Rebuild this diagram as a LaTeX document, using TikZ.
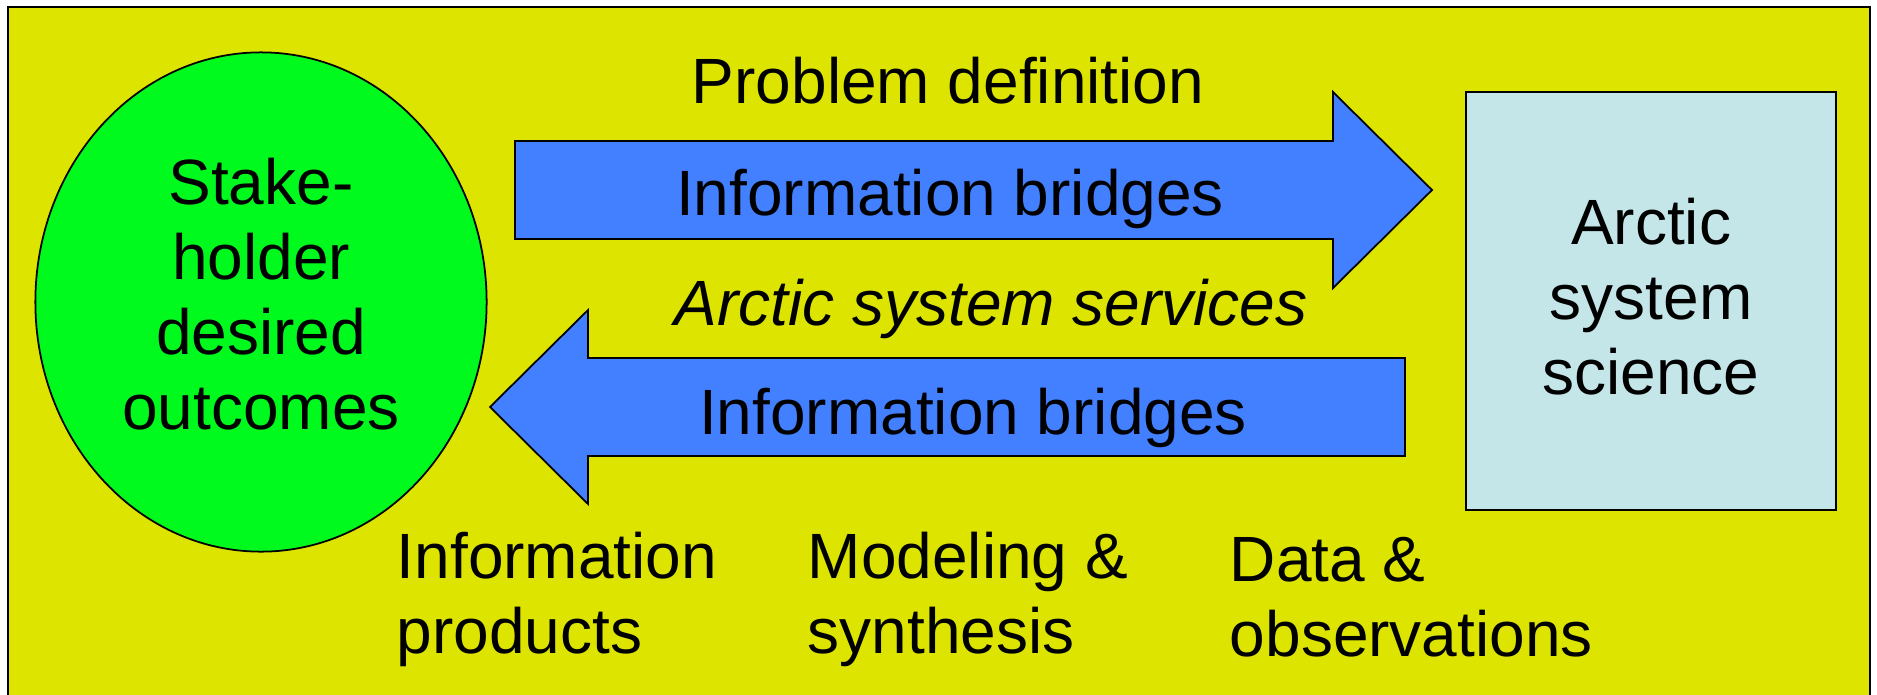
\documentclass[tikz,border=0pt]{standalone}
\usepackage{fontspec}
\setmainfont{Liberation Sans}
\usetikzlibrary{shapes.geometric}
\usetikzlibrary{positioning}

\definecolor{panelyellow}{RGB}{220,228,0}
\definecolor{stakegreen}{RGB}{0,250,30}
\definecolor{bridgeblue}{RGB}{66,128,255}
\definecolor{sciencecyan}{RGB}{196,230,232}

\begin{document}
\begin{tikzpicture}[x=0.01cm, y=-0.01cm, line width=0.5pt,
  every node/.style={font=\fontsize{18.2}{21.3}\selectfont, align=center, inner sep=0pt},
  bridge/.style={draw, fill=bridgeblue, line join=miter},
  caption/.style={align=left, anchor=west}]
\useasboundingbox (0,0) rectangle (1877,694);
\draw[fill=panelyellow] (8,7) rectangle (1870,710);

\node[draw, ellipse, fill=stakegreen, minimum width=4.51cm, minimum height=4.99cm] (SH) at (261,302) {};
\node[draw, fill=sciencecyan, minimum width=3.70cm, minimum height=4.18cm] (AS) at (1651,301) {};
\node (SHtext) at (261,294) {Stake-\\holder\\desired\\outcomes};
\node (AStext) at (1651,297) {Arctic\\system\\science};

\draw[bridge] (515,141) -- (1333,141) -- (1333,92) -- (1432,190) -- (1333,288) -- (1333,239) -- (515,239) -- cycle;
\draw[bridge] (490,407) -- (588,310) -- (588,358) -- (1405,358) -- (1405,456) -- (588,456) -- (588,504) -- cycle;

\node (PD) at (948,81) {Problem definition};
\node (IB1) at (950,199) {Information bridges};
\node (ASS) at (991,309) {\itshape Arctic system services};
\node (IB2) at (973,418) {Information bridges};

\node[caption] (IP) at (396,599) {Information\\products};
\node[caption] (MS) at (807,599) {Modeling \&\\synthesis};
\node[caption] (DO) at (1229,597) {Data \&\\observations};
\end{tikzpicture}
\end{document}
